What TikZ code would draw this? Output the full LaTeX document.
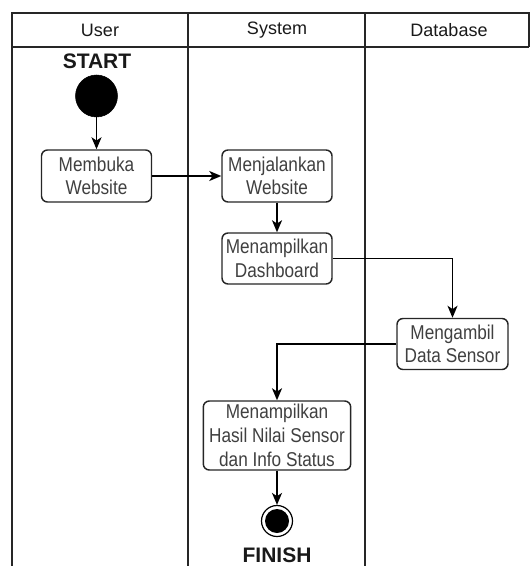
\documentclass[tikz,border=0pt]{standalone}
\usepackage{fontspec}
\setmainfont{Liberation Sans}
\newfontfamily\boxfont[FakeStretch=0.86]{Liberation Sans}
\usetikzlibrary{arrows.meta}
\definecolor{linecol}{HTML}{262626}
\definecolor{textcol}{HTML}{404040}
\tikzset{
  lane/.style={draw=linecol, line width=1.6pt},
  lanetitle/.style={font=\fontsize{13.5pt}{16pt}\selectfont, text=black!90},
  activity/.style={draw=linecol, line width=1.1pt, rounded corners=4.5pt,
    fill=white, inner sep=0pt, align=center, text=textcol,
    font=\boxfont\fontsize{15pt}{17.6pt}\selectfont},
  flow/.style={draw=black, line width=1.3pt,
    -{Stealth[length=9pt, width=7.5pt, inset=2.5pt]}},
  marker/.style={font=\bfseries\fontsize{15.75pt}{18pt}\selectfont, text=black!90},
}
\begin{document}
\begin{tikzpicture}[x=0.75pt, y=-0.75pt]
\useasboundingbox (0,0) rectangle (531,566);

% swimlane frame
\draw[lane] (12,566) -- (12,13) -- (529,13) -- (529,47);
\draw[lane] (12,47) -- (529,47);
\draw[lane] (188,13) -- (188,566);
\draw[lane] (365,13) -- (365,566);

% lane titles
\node[lanetitle] (tUser) at (100,30) {User};
\node[lanetitle] (tSystem) at (277,30) {System};
\node[lanetitle] (tDatabase) at (449,30) {Database};

% initial node
\node[marker] (startlbl) at (97,61) {START};
\node[circle, fill=black, draw=black, minimum size=31.5pt, inner sep=0pt] (start) at (96.5,96) {};

% activities
\node[activity, minimum width=82.5pt, minimum height=39pt] (membuka) at (96.5,176) {Membuka\\Website};
\node[activity, minimum width=82.5pt, minimum height=39pt] (jalankan) at (277,176) {Menjalankan\\Website};
\node[activity, minimum width=82.5pt, minimum height=38.25pt] (dashboard) at (277,258.5) {Menampilkan\\Dashboard};
\node[activity, minimum width=83.25pt, minimum height=38.25pt] (ambil) at (452.5,344) {Mengambil\\Data Sensor};
\node[activity, minimum width=110.5pt, minimum height=51.75pt, font=\boxfont\fontsize{15pt}{17.8pt}\selectfont] (hasil) at (277,435.5) {Menampilkan\\Hasil Nilai Sensor\\dan Info Status};

% final node
\node[circle, draw=black, line width=0.9pt, fill=white, minimum size=23.25pt, inner sep=0pt] (finish) at (277,521) {};
\node[circle, fill=black, minimum size=18pt, inner sep=0pt] (finishdot) at (finish.center) {};
\node[marker] (finishlbl) at (277,555) {FINISH};

% control flow
\draw[flow] (start.south) -- (membuka.north);
\draw[flow] (membuka.east) -- (jalankan.west);
\draw[flow] (jalankan.south) -- (dashboard.north);
\draw[flow] (dashboard.east) -| (ambil.north);
\draw[flow] (ambil.west) -| (hasil.north);
\draw[flow] (hasil.south) -- (finish.north);
\end{tikzpicture}
\end{document}
